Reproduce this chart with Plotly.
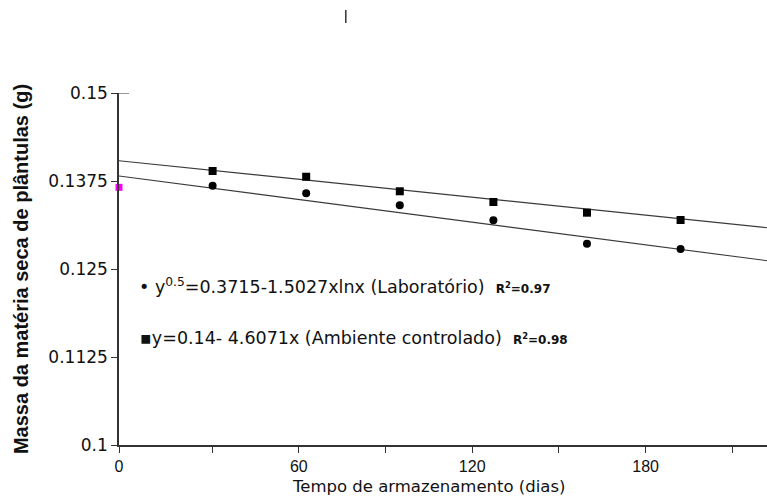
import plotly.graph_objects as go

# Data (days, dry mass g)
days = [30, 60, 90, 120, 150, 180]
lab = [0.13683, 0.13575, 0.13405, 0.13192, 0.12859, 0.12784]        # circles (Laboratório)
amb = [0.13892, 0.13811, 0.13604, 0.13452, 0.13300, 0.13196]        # squares (Ambiente controlado)
init_day = [0]
init_val = [0.1366]
fit_x = [0, 207.7]
fit_lab = [0.13821, 0.12618]
fit_amb = [0.14038, 0.13087]

# labelled (printed) time axis as drawn in the figure
x_tickvals = [-2.2, 30, 60, 90, 120, 150, 180, 210]
x_ticktext = ["0", "", "60", "", "120", "", "180", ""]
y_tickvals = [0.1, 0.1125, 0.125, 0.1375, 0.15]
y_ticktext = ["0.1", "0.1125", "0.125", "0.1375", "0.15"]

ARIAL = "Liberation Sans, Arial, sans-serif"
WIDE = "DejaVu Sans, sans-serif"
AX = "#333333"

fig = go.Figure()
# invisible anchor trace so the labelled x axis is drawn
fig.add_trace(go.Scatter(x=x_tickvals[1:2], y=y_tickvals[:1], mode="markers",
                         marker=dict(opacity=0), hoverinfo="skip", showlegend=False))
fig.add_trace(go.Scatter(x=fit_x, y=fit_amb, mode="lines", xaxis="x2",
                         line=dict(color="#3a3a3a", width=1.1), showlegend=False))
fig.add_trace(go.Scatter(x=fit_x, y=fit_lab, mode="lines", xaxis="x2",
                         line=dict(color="#3a3a3a", width=1.1), showlegend=False))
fig.add_trace(go.Scatter(x=days, y=amb, mode="markers", xaxis="x2",
                         marker=dict(symbol="square", size=8, color="black"), showlegend=False))
fig.add_trace(go.Scatter(x=days, y=lab, mode="markers", xaxis="x2",
                         marker=dict(symbol="circle", size=8, color="black"), showlegend=False))
fig.add_trace(go.Scatter(x=init_day, y=init_val, mode="markers", xaxis="x2", cliponaxis=False,
                         marker=dict(symbol="square", size=7, color="#ff00ff"), showlegend=False))

fig.update_layout(
    width=767, height=498,
    margin=dict(l=119, r=0, t=93, b=53),
    plot_bgcolor="white", paper_bgcolor="white",
    font=dict(family=WIDE, color="#111111", size=17),
    xaxis=dict(range=[-2.2, 222], tickvals=x_tickvals, ticktext=x_ticktext,
               showline=True, linecolor=AX, linewidth=1.5, ticks="outside", ticklen=6,
               tickcolor=AX, tickwidth=1, showgrid=False, zeroline=False,
               tickfont=dict(family=ARIAL, size=16)),
    xaxis2=dict(range=[0, 207.7], overlaying="x", visible=False),
    yaxis=dict(range=[0.1, 0.15], tickvals=y_tickvals, ticktext=y_ticktext,
               showline=True, linecolor=AX, linewidth=1.5, ticks="outside", ticklen=6,
               tickcolor=AX, tickwidth=1, showgrid=False, zeroline=False,
               tickfont=dict(family=WIDE, size=17),
               title=dict(text="<b>Massa da matéria seca de plântulas (g)</b>",
                          font=dict(family=ARIAL, size=20), standoff=14)),
    annotations=[
        dict(xref="paper", yref="paper", x=0.477, y=-0.119, xanchor="center", yanchor="middle",
             showarrow=False, font=dict(family=WIDE, size=16.5),
             text="Tempo de armazenamento (dias)"),
        dict(xref="paper", yref="paper", x=0.028, y=0.452, xanchor="left", yanchor="middle",
             showarrow=False, font=dict(family=WIDE, size=17.5),
             text="• y<sup>0.5</sup>=0.3715-1.5027xlnx (Laboratório)  <b><span style='font-size:12px'>R<sup>2</sup>=0.97</span></b>"),
        dict(xref="paper", yref="paper", x=0.030, y=0.304, xanchor="left", yanchor="middle",
             showarrow=False, font=dict(family=WIDE, size=17.5),
             text="▪y=0.14- 4.6071x (Ambiente controlado)  <b><span style='font-size:12px'>R<sup>2</sup>=0.98</span></b>"),
    ],
    shapes=[
        dict(type="line", xref="paper", yref="y", x0=0, x1=10/648, y0=0.15, y1=0.15,
             line=dict(color=AX, width=1)),
        dict(type="line", xref="paper", yref="paper", x0=0.350, x1=0.350, y0=1.236, y1=1.199,
             line=dict(color=AX, width=1.5)),
    ],
)

fig.write_html("out.html")
